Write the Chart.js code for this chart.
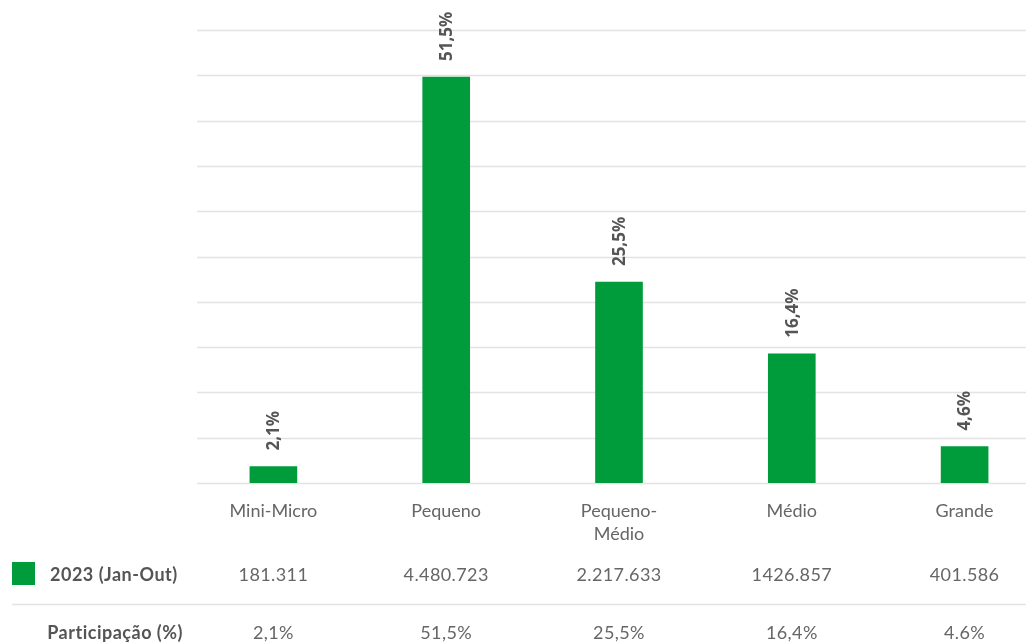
<!DOCTYPE html>
<html>
<head>
<meta charset="utf-8">
<script src="https://cdn.jsdelivr.net/npm/chart.js@4.4.0/dist/chart.umd.min.js"></script>
<style>
    html, body { margin: 0; padding: 0; background: #fff; overflow: hidden; }
    #wrap { position: relative; width: 1051px; height: 642px; }
</style>
</head>
<body>
<div id="wrap"><canvas id="chart"></canvas></div>
<script>
// ============================================================
// DATA
// ============================================================
const categories = ["Mini-Micro", "Pequeno", ["Pequeno-", "Médio"], "Médio", "Grande"];
const seriesName = "2023 (Jan-Out)";
const values2023 = [181311, 4480723, 2217633, 1426857, 401586];
const valueLabels = ["181.311", "4.480.723", "2.217.633", "1426.857", "401.586"];
const barLabels = ["2,1%", "51,5%", "25,5%", "16,4%", "4,6%"];
const shareRowTitle = "Participação (%)";
const shareLabels = ["2,1%", "51,5%", "25,5%", "16,4%", "4.6%"];

const GREEN = "#009c3b";
const GRID = "#e3e3e3";
const TEXT = "#666666";
const DARK = "#555555";
const FONT = "Lato, sans-serif";

// gridlines drawn from x=197 (chart area starts a bit further left)
const gridPlugin = {
    id: "gridLines",
    beforeDatasetsDraw(chart) {
        const { ctx, scales: { y } } = chart;
        ctx.save();
        ctx.strokeStyle = GRID;
        ctx.lineWidth = 1.5;
        y.ticks.forEach(t => {
            const py = Math.round(y.getPixelForValue(t.value)) + 0.5;
            ctx.beginPath();
            ctx.moveTo(197, py);
            ctx.lineTo(chart.width, py);
            ctx.stroke();
        });
        ctx.restore();
    }
};

// rotated % labels above the bars
const barLabelPlugin = {
    id: "barLabels",
    afterDatasetsDraw(chart) {
        const { ctx } = chart;
        const meta = chart.getDatasetMeta(0);
        ctx.save();
        ctx.font = "bold 17px 'Open Sans', sans-serif";
        ctx.fillStyle = DARK;
        ctx.textAlign = "left";
        ctx.textBaseline = "middle";
        meta.data.forEach((bar, i) => {
            ctx.save();
            ctx.translate(bar.x + 1, bar.y - 16);
            ctx.rotate(-Math.PI / 2);
            ctx.fillText(barLabels[i], 0, 0);
            ctx.restore();
        });
        ctx.restore();
    }
};

// data table under the chart
const tablePlugin = {
    id: "dataTable",
    afterDraw(chart) {
        const { ctx, scales: { x } } = chart;
        ctx.save();

        // legend box + series name
        ctx.fillStyle = GREEN;
        ctx.fillRect(12, 562, 23, 23);
        ctx.fillStyle = DARK;
        ctx.font = "bold 18px " + FONT;
        ctx.letterSpacing = "0.5px";
        ctx.textAlign = "left";
        ctx.textBaseline = "middle";
        ctx.fillText(seriesName, 50, 575);

        ctx.textAlign = "right";
        ctx.fillText(shareRowTitle, 183, 633);

        // separator
        ctx.strokeStyle = GRID;
        ctx.lineWidth = 1.5;
        ctx.beginPath();
        ctx.moveTo(12, 604.5);
        ctx.lineTo(chart.width, 604.5);
        ctx.stroke();

        ctx.font = "18px " + FONT;
        ctx.letterSpacing = "0.4px";
        ctx.fillStyle = TEXT;
        ctx.textAlign = "center";
        categories.forEach((c, i) => {
            const px = x.getPixelForValue(i);
            ctx.fillText(valueLabels[i], px, 575);
            ctx.fillText(shareLabels[i], px, 633);
        });
        ctx.restore();
    }
};

new Chart(document.getElementById("chart"), {
    type: "bar",
    data: {
        labels: categories,
        datasets: [{
            label: seriesName,
            data: values2023,
            backgroundColor: GREEN,
            barThickness: 47
        }]
    },
    options: {
        responsive: true,
        maintainAspectRatio: false,
        animation: false,
        layout: { padding: { left: 187, right: 0, top: 30, bottom: 0 } },
        plugins: {
            legend: { display: false },
            tooltip: { enabled: false }
        },
        scales: {
            x: {
                grid: { display: false, drawTicks: false },
                border: { display: false },
                ticks: {
                    color: TEXT,
                    font: { family: FONT, size: 18, lineHeight: 1.25 },
                    padding: 17,
                    maxRotation: 0,
                    autoSkip: false
                },
                afterFit: s => { s.height = 159; }
            },
            y: {
                min: 0,
                max: 5000000,
                ticks: { display: false, stepSize: 500000 },
                grid: { display: false },
                border: { display: false },
                afterFit: s => { s.width = 0; }
            }
        }
    },
    plugins: [gridPlugin, barLabelPlugin, tablePlugin]
});
</script>
</body>
</html>
